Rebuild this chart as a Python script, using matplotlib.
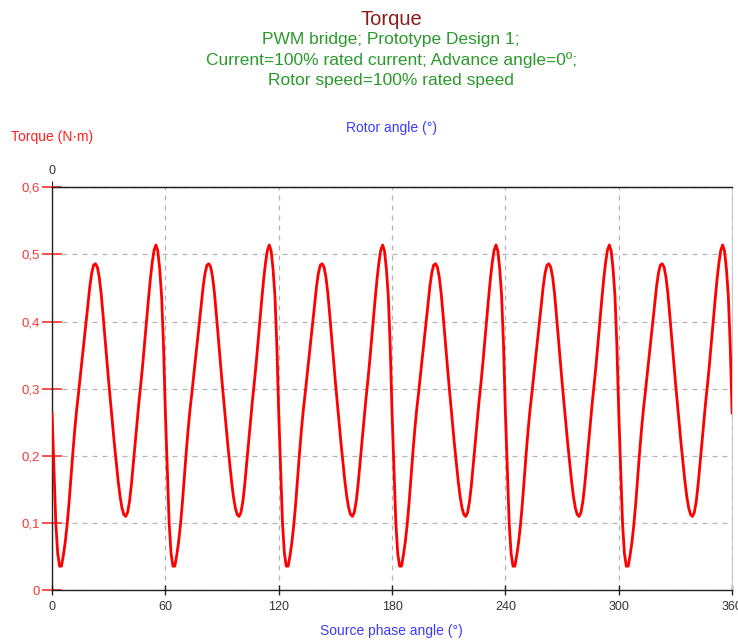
import numpy as np
import matplotlib.pyplot as plt

plt.rcParams['font.family'] = ['Liberation Sans', 'DejaVu Sans']

# One 60 deg electrical period of the torque ripple (N·m), sampled every 1 deg
period_deg = 60
torque_period = [
    0.264, 0.180, 0.100, 0.055, 0.036, 0.036, 0.052, 0.072, 0.098, 0.130,
    0.168, 0.204, 0.238, 0.268, 0.293, 0.320, 0.346, 0.372, 0.398, 0.425,
    0.452, 0.472, 0.484, 0.486, 0.481, 0.466, 0.442, 0.410, 0.376, 0.342,
    0.310, 0.279, 0.248, 0.218, 0.190, 0.163, 0.140, 0.123, 0.113, 0.110,
    0.116, 0.132, 0.157, 0.188, 0.219, 0.250, 0.280, 0.307, 0.336, 0.368,
    0.400, 0.432, 0.462, 0.487, 0.506, 0.514, 0.505, 0.478, 0.438, 0.365,
]
n_periods = 6

torque = np.array(torque_period * n_periods + [torque_period[0]])
angle = np.arange(len(torque)) * (period_deg / len(torque_period))

x_ticks = [0, 60, 120, 180, 240, 300, 360]
y_ticks = [0, 0.1, 0.2, 0.3, 0.4, 0.5, 0.6]
y_labels = ['0', '0,1', '0,2', '0,3', '0,4', '0,5', '0,6']

fig = plt.figure(figsize=(7.38, 6.41), dpi=100)
ax = fig.add_axes([0.0705, 0.079, 0.9215, 0.629])

ax.plot(angle, torque, color='#ff0000', linewidth=2.0, zorder=3)

ax.set_xlim(0, 360)
ax.set_ylim(0, 0.6)
ax.set_xticks(x_ticks)
ax.set_yticks(y_ticks)
ax.set_yticklabels(y_labels)

ax.grid(True, color='#b4b4b4', linestyle=(0, (4, 4)), linewidth=0.9)
ax.tick_params(axis='y', direction='inout', length=14, width=1.2,
               color='#ff3030', labelcolor='#ff3535', labelsize=9.5, pad=2)
ax.tick_params(axis='x', direction='inout', length=7, width=1.0,
               color='#222222', labelcolor='#333333', labelsize=9, pad=4)

for side in ['left', 'bottom', 'top']:
    ax.spines[side].set_color('#222222')
    ax.spines[side].set_linewidth(1.0)
ax.spines['right'].set_color('#c8c8c8')

# rotor angle axis on top, only the origin is marked
top = ax.secondary_xaxis('top')
top.set_xticks([0])
top.tick_params(direction='out', length=4, color='#222222',
                labelcolor='#333333', labelsize=9, pad=3)

fig.text(0.53, 0.969, 'Torque', color='#8b1c1c', fontsize=14.5,
         ha='center', va='center')
fig.text(0.53, 0.907, 'PWM bridge; Prototype Design 1;\n'
         'Current=100% rated current; Advance angle=0º;\n'
         'Rotor speed=100% rated speed',
         color='#2a9a2a', fontsize=12.5, ha='center', va='center',
         linespacing=1.4)

fig.text(0.015, 0.786, 'Torque (N·m)', color='#ff2020', fontsize=10,
         ha='left', va='center')
fig.text(0.53, 0.80, 'Rotor angle (°)', color='#3a3aff', fontsize=10,
         ha='center', va='center')
fig.text(0.53, 0.016, 'Source phase angle (°)', color='#3a3aff', fontsize=10,
         ha='center', va='center')

fig.savefig('out.png', dpi=100)
